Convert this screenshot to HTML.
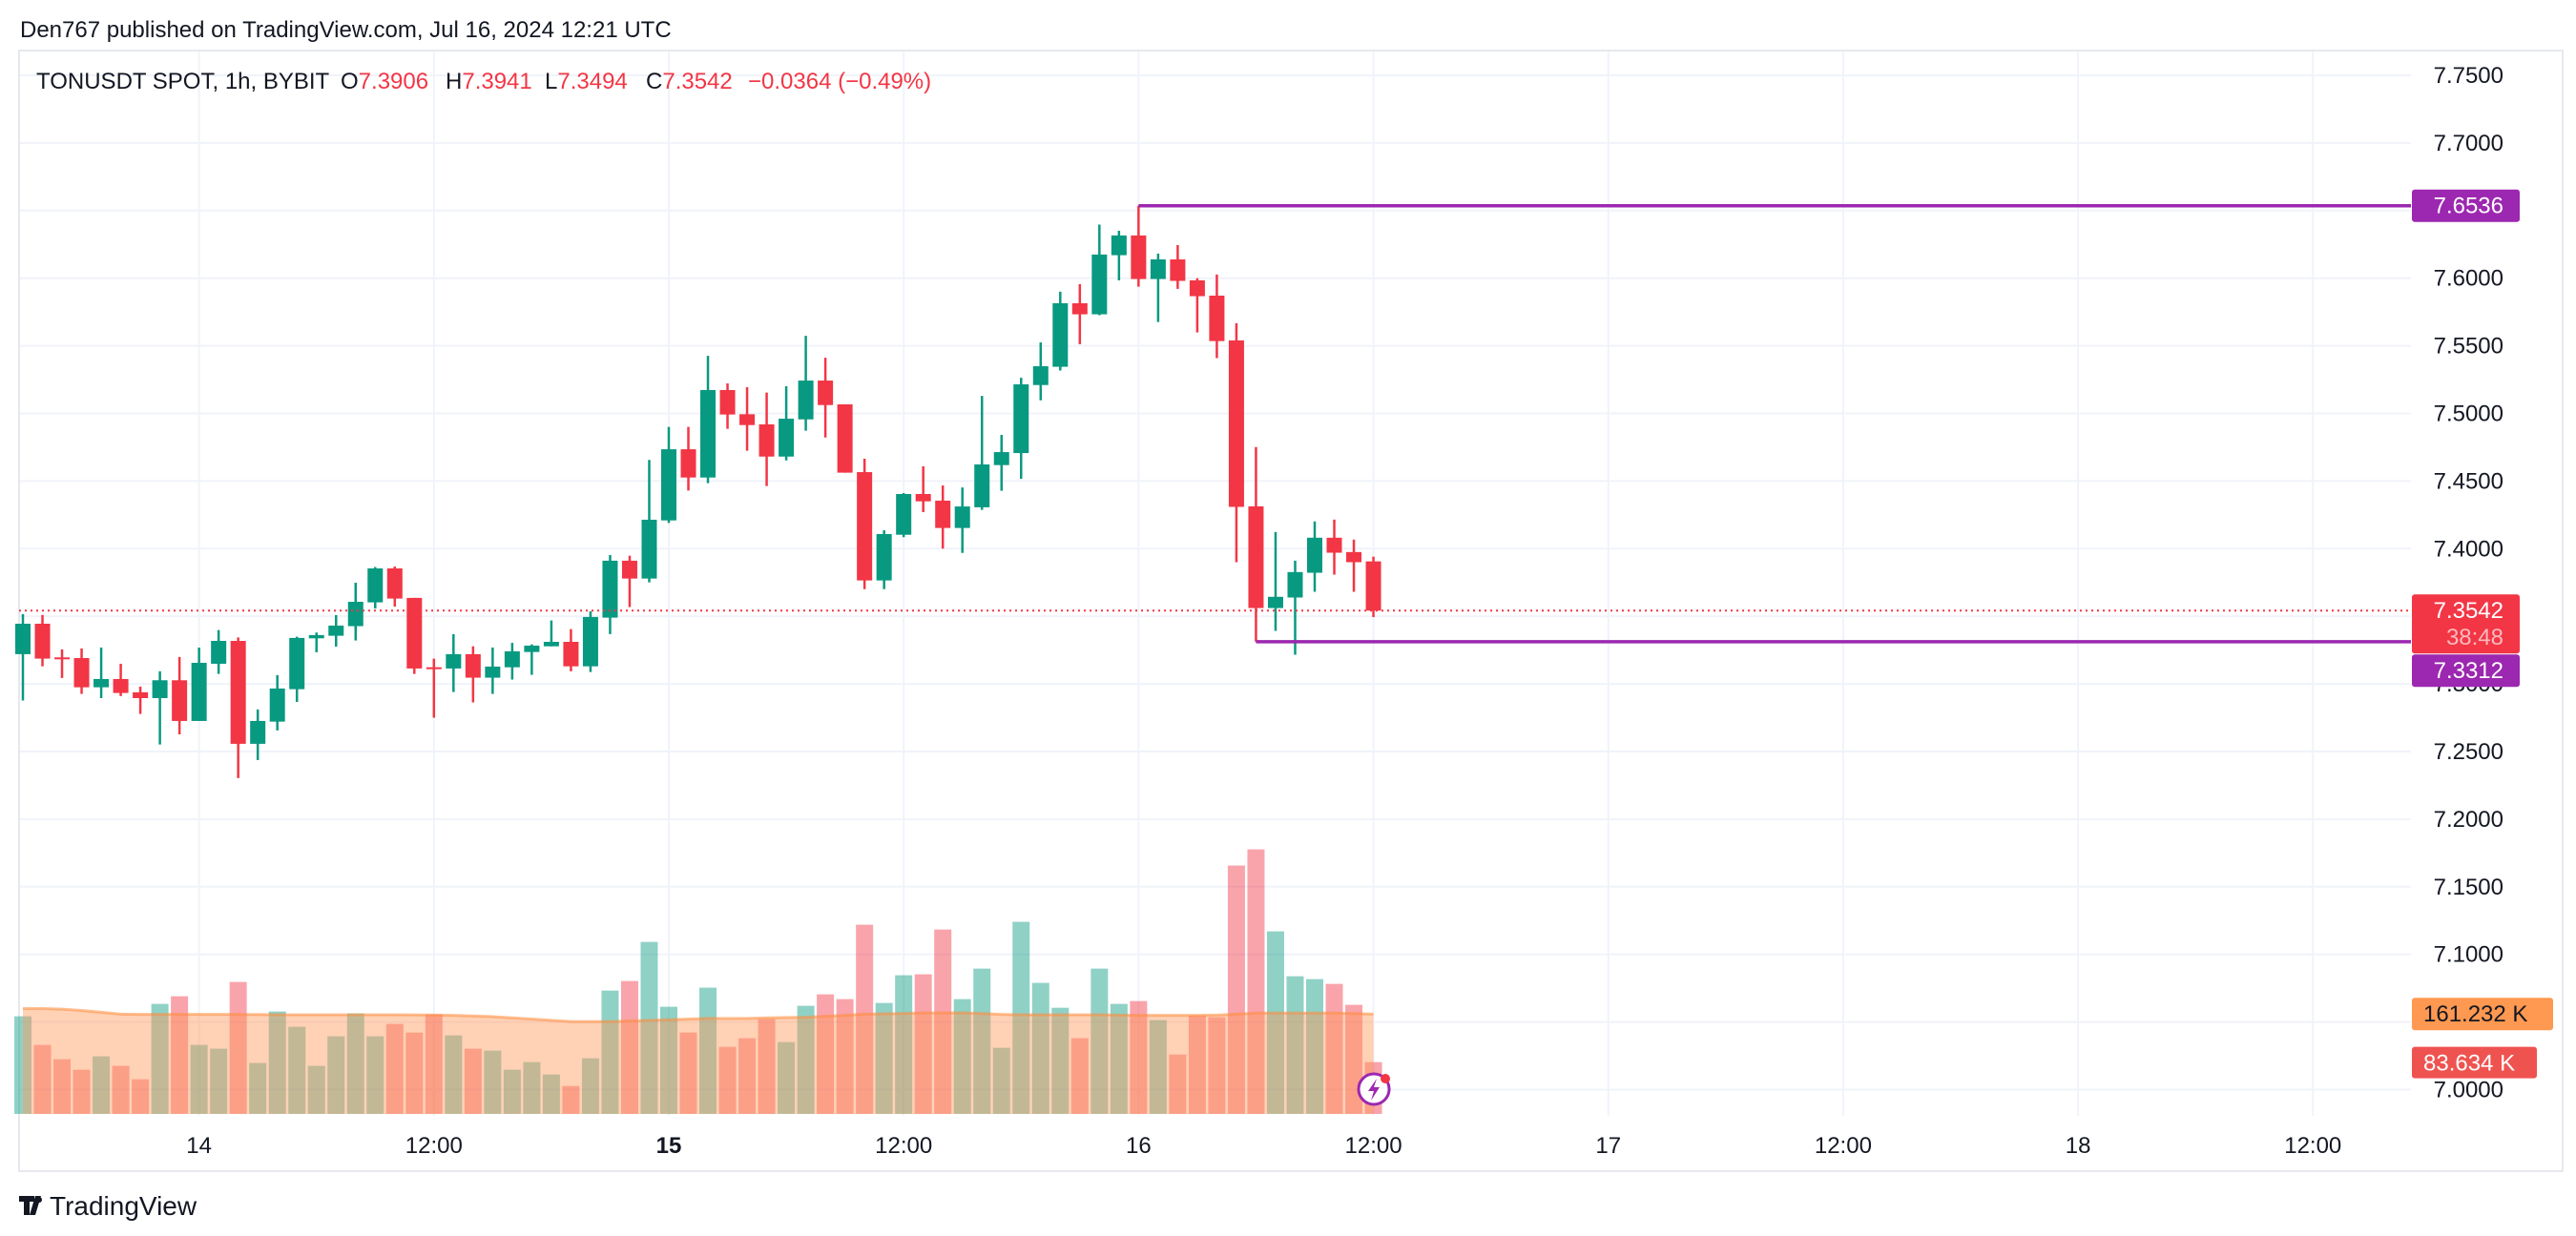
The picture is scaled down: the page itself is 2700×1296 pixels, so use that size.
<!DOCTYPE html>
<html><head><meta charset="utf-8"><style>
html,body{margin:0;padding:0;background:#fff;}
svg{display:block;font-family:"Liberation Sans",sans-serif;}
</style></head><body>
<svg id="chart" width="2700" height="1296" viewBox="0 0 2700 1296" xmlns="http://www.w3.org/2000/svg">
<rect x="0" y="0" width="2700" height="1296" fill="#fff"/>
<g id="grid"></g>
<rect x="20" y="53" width="2666" height="1175" fill="none" stroke="#e6e8ee" stroke-width="2"/>
<g id="vol"></g>
<g id="candles"></g>
<g id="overlay"></g>
<g id="axis"></g>
<g id="taxis"></g>
<text x="21" y="39" font-size="24" fill="#131722">Den767 published on TradingView.com, Jul 16, 2024 12:21 UTC</text>
<text y="93" font-size="24" fill="#131722"><tspan x="38">TONUSDT SPOT, 1h, BYBIT</tspan><tspan x="357">O</tspan><tspan fill="#f23645">7.3906</tspan><tspan x="467">H</tspan><tspan fill="#f23645">7.3941</tspan><tspan x="571">L</tspan><tspan fill="#f23645">7.3494</tspan><tspan x="677">C</tspan><tspan fill="#f23645">7.3542</tspan><tspan x="784" fill="#f23645">−0.0364 (−0.49%)</tspan></text>
<g>
<path d="M20 1254h16v6h-5v14h-6v-14h-5z M37 1254h6l-6 20h-6z" fill="#131722"/>
<circle cx="41" cy="1258" r="3" fill="#131722"/>
<text x="52" y="1274" font-size="28" fill="#131722">TradingView</text>
</g>
<g>
<circle cx="1440" cy="1142" r="16" fill="#fff" stroke="#9c27b0" stroke-width="3"/>
<path d="M1443 1131l-9 13h6l-3 10 9-14h-6z" fill="#9c27b0"/>
<circle cx="1452" cy="1131" r="5" fill="#f23645"/>
</g>
</svg>
<script>
const opens=[7.3220,7.3445,7.3196,7.3191,7.2975,7.3036,7.2938,7.2895,7.3027,7.2726,7.3149,7.3318,7.2557,7.2721,7.2961,7.3337,7.3356,7.3427,7.3603,7.3854,7.3636,7.3123,7.3114,7.3220,7.3046,7.3123,7.3236,7.3278,7.3311,7.3130,7.3490,7.3911,7.3779,7.4209,7.4735,7.4526,7.5173,7.4994,7.4919,7.4681,7.4956,7.5243,7.5067,7.4566,7.3765,7.4103,7.4404,7.4355,7.4153,7.4306,7.4618,7.4707,7.5210,7.5345,7.5815,7.5733,7.6170,7.6316,7.5994,7.6139,7.5984,7.5871,7.5540,7.4313,7.3561,7.3639,7.3822,7.4081,7.3975,7.3906];
const highs=[7.3516,7.3510,7.3255,7.3262,7.3269,7.3149,7.2980,7.3093,7.3199,7.3269,7.3398,7.3344,7.2811,7.3065,7.3349,7.3380,7.3509,7.3748,7.3864,7.3868,7.3636,7.3187,7.3368,7.3278,7.3269,7.3304,7.3292,7.3469,7.3405,7.3537,7.3953,7.3948,7.4656,7.4900,7.4900,7.5426,7.5222,7.5194,7.5154,7.5201,7.5574,7.5412,7.5067,7.4665,7.4136,7.4411,7.4609,7.4468,7.4453,7.5130,7.4841,7.5264,7.5525,7.5900,7.5956,7.6396,7.6351,7.6536,7.6182,7.6245,7.6000,7.6027,7.5667,7.4751,7.4123,7.3911,7.4201,7.4215,7.4067,7.3941];
const lows=[7.2877,7.3130,7.3044,7.2926,7.2895,7.2910,7.2778,7.2552,7.2627,7.2726,7.3074,7.2303,7.2437,7.2656,7.2867,7.3234,7.3276,7.3321,7.3558,7.3572,7.3074,7.2750,7.2940,7.2863,7.2926,7.3032,7.3067,7.3278,7.3093,7.3088,7.3368,7.3568,7.3751,7.4190,7.4430,7.4484,7.4886,7.4724,7.4463,7.4653,7.4872,7.4822,7.4562,7.3701,7.3701,7.4085,7.4270,7.4000,7.3969,7.4287,7.4428,7.4517,7.5097,7.5317,7.5512,7.5726,7.5984,7.5937,7.5676,7.5921,7.5599,7.5409,7.3900,7.3312,7.3392,7.3216,7.3681,7.3808,7.3681,7.3494];
const closes=[7.3445,7.3187,7.3190,7.2975,7.3036,7.2933,7.2895,7.3027,7.2726,7.3156,7.3318,7.2557,7.2726,7.2966,7.3340,7.3361,7.3431,7.3607,7.3854,7.3631,7.3114,7.3114,7.3220,7.3046,7.3128,7.3241,7.3283,7.3311,7.3130,7.3495,7.3911,7.3779,7.4214,7.4735,7.4526,7.5173,7.4992,7.4914,7.4681,7.4961,7.5243,7.5062,7.4562,7.3765,7.4108,7.4404,7.4350,7.4153,7.4312,7.4623,7.4714,7.5215,7.5349,7.5815,7.5733,7.6175,7.6316,7.5994,7.6139,7.5980,7.5867,7.5535,7.4309,7.3561,7.3644,7.3827,7.4081,7.3970,7.3900,7.3542];
const volumesK=[157.5,111.3,88.2,71.3,92.9,77.5,55.9,177.5,189.8,111.3,105.2,212.9,82.1,165.2,140.6,77.5,125.2,162.1,125.2,145.2,131.3,160.6,126.7,105.2,102.1,71.3,83.6,63.6,45.1,89.8,199.0,214.4,277.5,172.9,131.3,203.7,108.2,122.1,152.9,115.9,174.4,192.9,185.2,305.2,179.0,223.7,225.2,297.5,185.2,234.4,106.7,309.9,211.4,171.3,122.1,234.4,177.5,182.1,151.3,95.9,159.0,156.0,400.7,426.8,294.5,222.1,217.5,209.8,176.0,83.6];
const volMA=[170,170,169,167,164,161,160.6,160.5,160.5,160.5,160.5,160.5,160.3,160,160,160,160,160,160,160,159.8,159.5,159,158,157,155,153,151,149,149,149,150,151,152,153,154,154,154,155,155.5,156,157.5,159,161,161.6,162,163,163,163,162,160.5,160,160,160,160,160,159.5,159,159,159,159,159.5,161,162.6,162.6,162.6,162.6,162.6,162,161.2];
const priceTicks=[7.75,7.70,7.65,7.60,7.55,7.50,7.45,7.40,7.35,7.30,7.25,7.20,7.15,7.10,7.05,7.00];
const timeTickHours=[9,21,33,45,57,69,81,93,105,117];
const timeTickLabels=["14","12:00","15","12:00","16","12:00","17","12:00","18","12:00"];
const hiLevel=7.6536, hiIdx=57, loLevel=7.3312, loIdx=63, lastPrice=7.3542;

const NS="http://www.w3.org/2000/svg";
const yP=p=>79+(7.75-p)*1418;
const xI=i=>24+20.515*i;
const VB=1168, vS=0.65;
const yV=v=>VB-v*vS;
const PL=20, PR=2527;
function mk(tag,attrs,parent){const e=document.createElementNS(NS,tag);for(const k in attrs)e.setAttribute(k,attrs[k]);parent.appendChild(e);return e;}
const grid=document.getElementById('grid');
priceTicks.forEach(p=>{const l=mk('line',{x1:PL,x2:PR,y1:yP(p),y2:yP(p),stroke:'#f0f3fa','stroke-width':2},grid);

});
timeTickHours.forEach(h=>{const l=mk('line',{x1:xI(h),x2:xI(h),y1:53,y2:1170,stroke:'#f0f3fa','stroke-width':2},grid);

});
const vol=document.getElementById('vol');
volumesK.forEach((v,i)=>{const up=closes[i]>=opens[i];
const r=mk('rect',{x:xI(i)-9,y:yV(v),width:18,height:v*vS,fill:up?'rgba(8,153,129,0.45)':'rgba(242,54,69,0.45)'},vol);

});
let d='M'+xI(0)+' '+VB;volMA.forEach((m,i)=>{d+=' L'+xI(i)+' '+yV(m);});d+=' L'+xI(volMA.length-1)+' '+VB+'Z';
const area=mk('path',{d:d,fill:'rgba(255,154,92,0.45)'},vol);


let d2='';volMA.forEach((m,i)=>{d2+=(i?' L':'M')+xI(i)+' '+yV(m);});
const mal=mk('path',{d:d2,fill:'none',stroke:'rgba(255,140,60,0.55)','stroke-width':3},vol);


const cg=document.getElementById('candles');
opens.forEach((o,i)=>{const c=closes[i];const up=c>=o;const col=up?'#089981':'#f23645';const x=xI(i);
const g=mk('g',{},cg);


mk('line',{x1:x,x2:x,y1:yP(highs[i]),y2:yP(lows[i]),stroke:col,'stroke-width':2.5},g);
const t=yP(Math.max(o,c)),b=yP(Math.min(o,c));
mk('rect',{x:x-8,y:t,width:16,height:Math.max(2,b-t),fill:col},g);});
const ov=document.getElementById('overlay');
const pl=mk('line',{x1:PL,x2:PR,y1:yP(lastPrice),y2:yP(lastPrice),stroke:'#f23645','stroke-width':2,'stroke-dasharray':'2 4'},ov);


const hl=mk('line',{x1:xI(hiIdx),x2:PR,y1:yP(hiLevel),y2:yP(hiLevel),stroke:'#9c27b0','stroke-width':3.5},ov);


const ll=mk('line',{x1:xI(loIdx),x2:PR,y1:yP(loLevel),y2:yP(loLevel),stroke:'#9c27b0','stroke-width':3.5},ov);


const ax=document.getElementById('axis');
priceTicks.forEach(p=>{const t=mk('text',{x:2624,y:yP(p)+8,'font-size':24,fill:'#131722','text-anchor':'end'},ax);t.textContent=p.toFixed(4);

});
function box(y1,y2,w,fill,name){const r=mk('rect',{x:2528,y:y1,width:w,height:y2-y1,rx:3,fill:fill},ax);

}
function lbl(y,txt,col,name){const t=mk('text',{x:2624,y:y,'font-size':24,fill:col,'text-anchor':'end'},ax);t.textContent=txt;

}
const yh=yP(hiLevel);box(yh-17,yh+17,113,'#9c27b0','high-level-badge');lbl(yh+8,hiLevel.toFixed(4),'#fff','high-level-label');
const yl=yP(lastPrice);box(yl-17,yl+45,113,'#f23645','last-price-badge');lbl(yl+8,lastPrice.toFixed(4),'#fff','last-price-label');lbl(yl+36,'38:48','#fbb9be','countdown-label');
box(yl+46,yl+80,113,'#9c27b0','low-level-badge');lbl(yl+71,loLevel.toFixed(4),'#fff','low-level-label');
const yma=yV(volMA[volMA.length-1]);box(yma-17,yma+17,148,'#ff9850','volume-ma-badge');
{const t=mk('text',{x:2540,y:yma+8,'font-size':24,fill:'#131722'},ax);t.textContent='161.232 K';

}
const yvv=yV(volumesK[volumesK.length-1]);box(yvv-16,yvv+17,131,'#ef5350','volume-badge');
{const t=mk('text',{x:2540,y:yvv+9,'font-size':24,fill:'#fff'},ax);t.textContent='83.634 K';

}
const ta=document.getElementById('taxis');
timeTickHours.forEach((h,k)=>{const t=mk('text',{x:xI(h),y:1209,'font-size':24,fill:'#131722','text-anchor':'middle','font-weight':timeTickLabels[k]==='15'?'bold':'normal'},ta);t.textContent=timeTickLabels[k];

});
</script>
</body></html>
